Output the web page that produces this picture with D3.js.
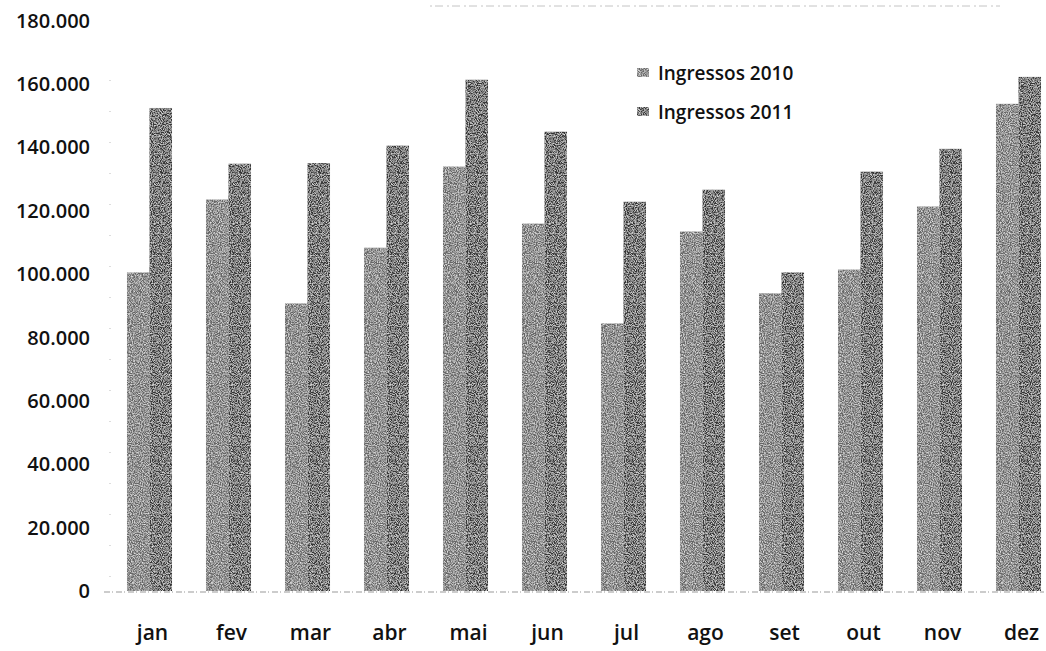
<!DOCTYPE html>
<html>
<head>
<meta charset="utf-8">
<script src="https://cdn.jsdelivr.net/npm/d3@7"></script>
<style>
  body { margin: 0; background: #fff; }
  text { font-family: "Open Sans", sans-serif; fill: #111; }
</style>
</head>
<body>
<svg id="chart" width="1046" height="651"></svg>
<script>
// values
var months = ["jan", "fev", "mar", "abr", "mai", "jun", "jul", "ago", "set", "out", "nov", "dez"];
var ingressos2010 = [100500, 123500, 90700, 108300, 133900, 115900, 84400, 113400, 93900, 101400, 121300, 153700];
var ingressos2011 = [152400, 134800, 135000, 140500, 161300, 144900, 122800, 126600, 100500, 132300, 139500, 162200];
var seriesNames = ["Ingressos 2010", "Ingressos 2011"];
var yTicks = [0, 20000, 40000, 60000, 80000, 100000, 120000, 140000, 160000, 180000];

var svg = d3.select("#chart");

// grainy scan look
var defs = svg.append("defs");
var f = defs.append("filter").attr("id", "grain").attr("x", 0).attr("y", 0).attr("width", 1).attr("height", 1);
f.append("feTurbulence").attr("type", "fractalNoise").attr("baseFrequency", 0.9).attr("numOctaves", 2).attr("seed", 3).attr("result", "noise");
f.append("feColorMatrix").attr("in", "noise").attr("type", "matrix")
  .attr("values", "0 0 0 0 1  0 0 0 0 1  0 0 0 0 1  0 0 0 -1.6 1.0").attr("result", "specks");
f.append("feComposite").attr("in", "specks").attr("in2", "SourceGraphic").attr("operator", "in").attr("result", "sp");
f.append("feMerge").call(m => { m.append("feMergeNode").attr("in", "SourceGraphic"); m.append("feMergeNode").attr("in", "sp"); });

var colors = ["#666666", "#353535"];

var y = d3.scaleLinear().domain([0, 180000]).range([591, 20.5]);
var x0 = d3.scaleBand().domain(months).range([110, 1058]).paddingInner(0.43).paddingOuter(0.215);
var x1 = d3.scaleBand().domain([0, 1]).range([0, x0.bandwidth()]);

// y axis labels
var fmt = d => d === 0 ? "0" : d3.format(",")(d).replace(/,/g, ".");
svg.append("g").selectAll("text").data(yTicks).join("text")
  .attr("x", 90).attr("y", d => y(d)).attr("dy", "0.36em")
  .attr("text-anchor", "end").attr("font-size", 20).attr("font-weight", 600)
  .text(fmt);

// faint scan axis lines
svg.append("line").attr("x1", 104).attr("x2", 1044).attr("y1", y(0) + 1).attr("y2", y(0) + 1)
  .attr("stroke", "#999").attr("stroke-width", 1).attr("stroke-dasharray", "6,2,1,3");
svg.append("line").attr("x1", 110).attr("x2", 110).attr("y1", 80).attr("y2", y(0))
  .attr("stroke", "#bbb").attr("stroke-width", 1).attr("stroke-dasharray", "1,30");
svg.append("line").attr("x1", 430).attr("x2", 1000).attr("y1", 6).attr("y2", 6)
  .attr("stroke", "#c4c4c4").attr("stroke-width", 1).attr("stroke-dasharray", "2,3,8,4");

// bars
var groups = svg.append("g").selectAll("g").data(months).join("g")
  .attr("transform", d => "translate(" + x0(d) + ",0)");
groups.selectAll("rect").data((m, i) => [ingressos2010[i], ingressos2011[i]]).join("rect")
  .attr("x", (v, j) => x1(j))
  .attr("y", v => y(v))
  .attr("width", x1.bandwidth())
  .attr("height", v => y(0) - y(v))
  .attr("fill", (v, j) => colors[j])
  .attr("filter", "url(#grain)");

// month labels
svg.append("g").selectAll("text").data(months).join("text")
  .attr("x", d => x0(d) + x0.bandwidth() / 2 + 3).attr("y", 640)
  .attr("text-anchor", "middle").attr("font-size", 21).attr("font-weight", 600)
  .text(d => d);

// legend
var lg = svg.append("g").selectAll("g").data(seriesNames).join("g")
  .attr("transform", (d, i) => "translate(637," + (73 + i * 39) + ")");
lg.append("rect").attr("x", 0).attr("y", -5).attr("width", 12).attr("height", 9)
  .attr("fill", (d, i) => colors[i]).attr("filter", "url(#grain)");
lg.append("text").attr("x", 21).attr("dy", "0.36em").attr("font-size", 19).attr("font-weight", 600)
  .text(d => d);
</script>
</body>
</html>
